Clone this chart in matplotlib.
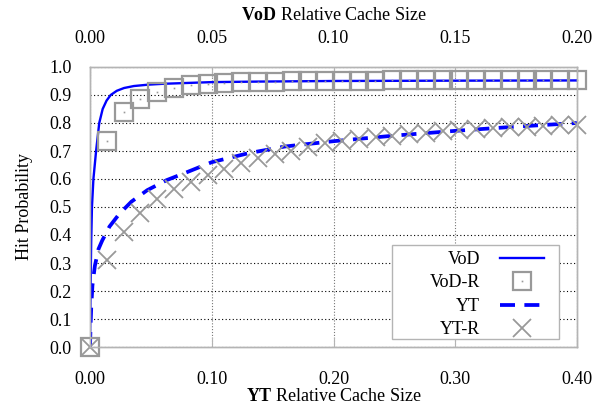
import matplotlib
matplotlib.use("Agg")
import matplotlib.pyplot as plt
from matplotlib.patches import Rectangle
from matplotlib.legend_handler import HandlerTuple

plt.rcParams['font.family'] = ['Liberation Serif', 'DejaVu Serif']
plt.rcParams['font.size'] = 13
plt.rcParams['mathtext.fontset'] = 'custom'
plt.rcParams['mathtext.rm'] = 'Liberation Serif'
plt.rcParams['mathtext.bf'] = 'Liberation Serif:bold'

# ---- data ----
vod_x = [0, 0.0002, 0.0005, 0.0008, 0.0014, 0.0025, 0.0038, 0.0052, 0.0068, 0.0085,
         0.011, 0.014, 0.018, 0.024, 0.03, 0.04, 0.05, 0.07, 0.1, 0.14, 0.2]
vod_y = [0, 0.2, 0.38, 0.5, 0.6, 0.7, 0.8, 0.85, 0.88, 0.9,
         0.915, 0.925, 0.932, 0.937, 0.94, 0.943, 0.946, 0.948, 0.95, 0.951, 0.952]

vodr_x = [0, 0.0069, 0.0138, 0.0207, 0.0276, 0.0345, 0.0414, 0.0483, 0.0552, 0.0621,
          0.0690, 0.0759, 0.0828, 0.0897, 0.0966, 0.1034, 0.1103, 0.1172, 0.1241, 0.1310,
          0.1379, 0.1448, 0.1517, 0.1586, 0.1655, 0.1724, 0.1793, 0.1862, 0.1931, 0.2000]
vodr_y = [0, 0.735, 0.84, 0.886, 0.91, 0.925, 0.934, 0.94, 0.943, 0.945,
          0.947, 0.948, 0.949, 0.95, 0.95, 0.951, 0.951, 0.951, 0.952, 0.952,
          0.952, 0.952, 0.952, 0.953, 0.953, 0.953, 0.953, 0.953, 0.953, 0.953]

yt_x = [0, 0.0005, 0.001, 0.002, 0.004, 0.007, 0.01, 0.016, 0.024, 0.034, 0.047,
        0.063, 0.08, 0.1, 0.13, 0.16, 0.2, 0.25, 0.3, 0.35, 0.4]
yt_y = [0, 0.08, 0.14, 0.22, 0.29, 0.35, 0.38, 0.43, 0.475, 0.519, 0.56,
        0.596, 0.625, 0.66, 0.692, 0.716, 0.735, 0.755, 0.772, 0.787, 0.80]

ytr_x = [0, 0.0138, 0.0276, 0.0414, 0.0552, 0.0690, 0.0828, 0.0966, 0.1103, 0.1241,
         0.1379, 0.1517, 0.1655, 0.1793, 0.1931, 0.2069, 0.2207, 0.2345, 0.2483, 0.2621,
         0.2759, 0.2897, 0.3034, 0.3172, 0.3310, 0.3448, 0.3586, 0.3724, 0.3862, 0.4000]
ytr_y = [0, 0.31, 0.41, 0.479, 0.527, 0.563, 0.59, 0.614, 0.635, 0.656,
         0.674, 0.689, 0.701, 0.713, 0.727, 0.735, 0.742, 0.749, 0.755, 0.76,
         0.765, 0.77, 0.774, 0.778, 0.781, 0.784, 0.787, 0.79, 0.792, 0.794]

yt_ticks = [0.0, 0.1, 0.2, 0.3, 0.4]
yt_ticklabels = ["0.00", "0.10", "0.20", "0.30", "0.40"]
vod_ticks = [0.0, 0.05, 0.10, 0.15, 0.20]
vod_ticklabels = ["0.00", "0.05", "0.10", "0.15", "0.20"]
hit_ticks = [0.0, 0.1, 0.2, 0.3, 0.4, 0.5, 0.6, 0.7, 0.8, 0.9, 1.0]
hit_ticklabels = ["0.0", "0.1", "0.2", "0.3", "0.4", "0.5", "0.6", "0.7", "0.8", "0.9", "1.0"]

labels = ["VoD", "VoD-R", "YT", "YT-R"]

BLUE = "#0000ff"
GRAY = "#999999"
FRAME = "#b4b4b4"

fig = plt.figure(figsize=(6.09, 4.12), dpi=100)
ax = fig.add_axes([90 / 609, 65 / 412, 487 / 609, 280 / 412])
ax2 = ax.twiny()

# grid (drawn on bottom axes)
ax.set_axisbelow(True)
ax.grid(axis='y', color='black', linestyle=(0, (1, 2.2)), linewidth=0.8)
ax.grid(axis='x', color='#777777', linestyle=(0, (1, 1.6)), linewidth=0.8)

# YT on bottom axis
yt_line, = ax.plot(yt_x, yt_y, color=BLUE, linewidth=2.7, dashes=(4.0, 2.5),
                   solid_capstyle='butt', dash_capstyle='butt')
ytr_line, = ax.plot(ytr_x, ytr_y, linestyle='none', marker='x', markersize=13,
                    markeredgewidth=1.3, color=GRAY, clip_on=False)

# VoD on top axis
vod_line, = ax2.plot(vod_x, vod_y, color=BLUE, linewidth=1.7)
vodr_sq, = ax2.plot(vodr_x, vodr_y, linestyle='none', marker='s', markersize=13,
                    markerfacecolor='none', markeredgecolor=GRAY, markeredgewidth=1.6,
                    clip_on=False)
vodr_dot, = ax2.plot(vodr_x, vodr_y, linestyle='none', marker='s', markersize=1.2,
                     markerfacecolor=GRAY, markeredgecolor=GRAY, markeredgewidth=0,
                     clip_on=False)

ax.set_xlim(0, 0.4)
ax.set_ylim(0, 1.0)
ax2.set_xlim(0, 0.2)

ax.set_xticks(yt_ticks)
ax.set_xticklabels(yt_ticklabels)
ax.set_yticks(hit_ticks)
ax.set_yticklabels(hit_ticklabels)
ax2.set_xticks(vod_ticks)
ax2.set_xticklabels(vod_ticklabels)

ax.tick_params(axis='x', direction='in', length=7, width=0.8, color=FRAME, pad=17.3)
ax.tick_params(axis='y', direction='in', length=0, pad=13)
ax2.tick_params(axis='x', direction='in', length=7, width=0.8, color=FRAME, pad=14.5)

for a in (ax, ax2):
    for s in a.spines.values():
        s.set_color(FRAME)
        s.set_linewidth(1.0)

ax.set_xlabel(r"$\mathbf{YT}$ Relative Cache Size", labelpad=0)
ax2.set_xlabel(r"$\mathbf{VoD}$ Relative Cache Size", labelpad=7)
ax.set_ylabel("Hit Probability", labelpad=12)

# legend frame
ax2.add_patch(Rectangle((0.620, 0.0286), 0.343, 0.336, transform=ax2.transAxes,
                        facecolor='white', edgecolor=FRAME, linewidth=1.0, zorder=4))
leg = ax2.legend([vod_line, (vodr_sq, vodr_dot), yt_line, ytr_line], labels,
                 handler_map={tuple: HandlerTuple(ndivide=1)},
                 loc='upper right', bbox_to_anchor=(0.932, 0.343),
                 borderaxespad=0, borderpad=0, frameon=False, markerfirst=False,
                 numpoints=1, handlelength=2.45, handletextpad=1.08,
                 labelspacing=0.36)
leg.set_zorder(5)

fig.savefig("out.png", dpi=100)
